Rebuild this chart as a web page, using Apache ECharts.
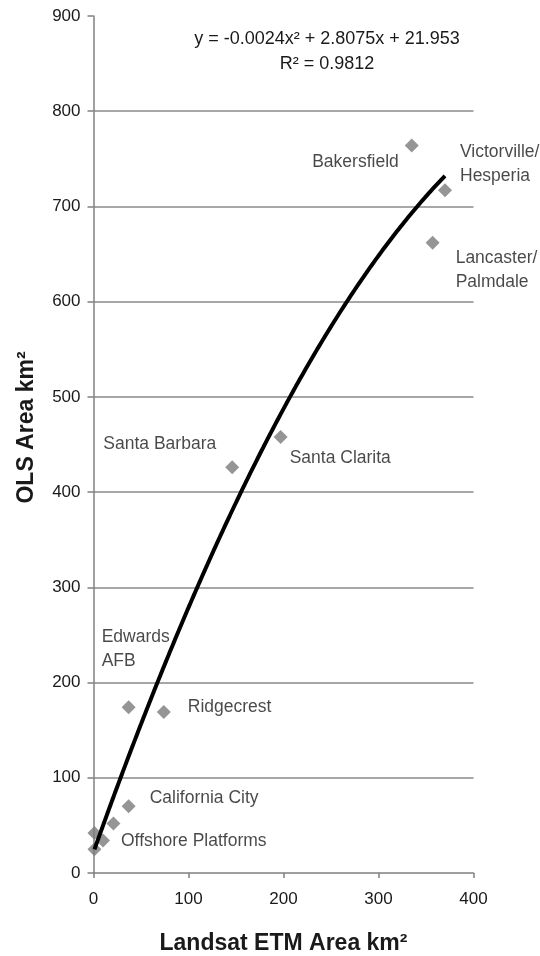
<!DOCTYPE html>
<html>
<head>
<meta charset="utf-8">
<title>OLS vs Landsat ETM urban area</title>
<script src="https://cdn.jsdelivr.net/npm/echarts@6/dist/echarts.min.js"></script>
<style>
  html, body { margin: 0; padding: 0; background: #ffffff; }
  #chart { width: 540px; height: 956px; }
</style>
</head>
<body>
<div id="chart"></div>
<script>
// Urban areas: Landsat ETM area (x) against OLS area (y), both in km²
const siteNames = [
  'Bakersfield', 'Victorville/\nHesperia', 'Lancaster/\nPalmdale',
  'Santa Clarita', 'Santa Barbara', 'Edwards\nAFB', 'Ridgecrest',
  'California City', '', '', 'Offshore Platforms', ''
];
const etmArea = [335, 370, 357, 197, 146, 37, 74, 37, 21, 1, 10, 1];
const olsArea = [764, 717, 662, 458, 426, 174, 169, 70, 52, 42, 34, 25];

// Second-order polynomial trendline, coefficients of x², x, 1
const trendCoefficients = [-0.0024, 2.8075, 21.953];
const rSquared = '0.9812';

// Axis ticks
const xTicks = [0, 100, 200, 300, 400];
const yTicks = [0, 100, 200, 300, 400, 500, 600, 700, 800, 900];

const FONT = "'Liberation Sans', Arial, Helvetica, sans-serif";
const TEXT = '#1a1a1a';

// Where each site label sits relative to its marker
const labelPlacement = {
  'Bakersfield':            { align: 'right', offset: [-13, 17] },
  'Victorville/\nHesperia': { align: 'left',  offset: [15, -26] },
  'Lancaster/\nPalmdale':   { align: 'left',  offset: [23, 28] },
  'Santa Clarita':          { align: 'left',  offset: [9, 21] },
  'Santa Barbara':          { align: 'right', offset: [-16, -23] },
  'Edwards\nAFB':           { align: 'left',  offset: [-27, -58] },
  'Ridgecrest':             { align: 'left',  offset: [24, -5] },
  'California City':        { align: 'left',  offset: [21, -8] },
  'Offshore Platforms':     { align: 'left',  offset: [18, 1] }
};

const pointData = etmArea.map((x, i) => {
  const name = siteNames[i];
  const item = { value: [x, olsArea[i]], name: name };
  const place = labelPlacement[name];
  if (place) {
    item.label = {
      show: true,
      formatter: name,
      position: 'inside',
      align: place.align,
      verticalAlign: 'middle',
      offset: place.offset,
      color: TEXT,
      fontFamily: FONT,
      fontSize: 17.5,
      lineHeight: 24
    };
  }
  return item;
});

// Trendline drawn across the range of the observed ETM areas
function trend(x) {
  const [a, b, c] = trendCoefficients;
  return a * x * x + b * x + c;
}
const xLo = Math.min(...etmArea);
const xHi = Math.max(...etmArea);
const trendData = [];
for (let x = xLo; x <= xHi; x += 1) trendData.push([x, trend(x)]);
if (trendData[trendData.length - 1][0] !== xHi) trendData.push([xHi, trend(xHi)]);

function term(v, suffix, first) {
  if (first) return (v < 0 ? '-' : '') + Math.abs(v) + suffix;
  return (v < 0 ? ' - ' : ' + ') + Math.abs(v) + suffix;
}
const equationText =
  'y = ' + term(trendCoefficients[0], 'x²', true) +
  term(trendCoefficients[1], 'x', false) +
  term(trendCoefficients[2], '', false);

const chart = echarts.init(document.getElementById('chart'), null, { renderer: 'canvas' });

chart.setOption({
  backgroundColor: '#ffffff',
  animation: false,
  textStyle: { fontFamily: FONT },
  grid: {
    left: 93.5, right: 66.5, top: 16, bottom: 83,
    containLabel: false,
    outerBoundsMode: 'none'
  },
  xAxis: {
    type: 'value',
    min: xTicks[0],
    max: xTicks[xTicks.length - 1],
    interval: xTicks[1] - xTicks[0],
    name: 'Landsat ETM Area km²',
    nameLocation: 'middle',
    nameGap: 59,
    nameTextStyle: { fontFamily: FONT, fontSize: 23, fontWeight: 'bold', color: TEXT },
    axisLine: { show: true, onZero: false, lineStyle: { color: '#808080', width: 1.5 } },
    axisTick: { show: true, inside: false, length: 5, lineStyle: { color: '#808080', width: 1.5 } },
    axisLabel: { fontFamily: FONT, fontSize: 17, color: TEXT, margin: 18 },
    splitLine: { show: false }
  },
  yAxis: {
    type: 'value',
    min: yTicks[0],
    max: yTicks[yTicks.length - 1],
    interval: yTicks[1] - yTicks[0],
    name: 'OLS Area km²',
    nameLocation: 'middle',
    nameRotate: 90,
    nameGap: 55,
    nameTextStyle: {
      fontFamily: FONT, fontSize: 23, fontWeight: 'bold', color: TEXT,
      padding: [0, 0, 0, 34]
    },
    axisLine: { show: true, onZero: false, lineStyle: { color: '#808080', width: 1.5 } },
    axisTick: { show: true, inside: false, length: 6, lineStyle: { color: '#808080', width: 1.5 } },
    axisLabel: { fontFamily: FONT, fontSize: 17, color: TEXT, margin: 13 },
    splitLine: {
      show: true,
      showMinLine: false,
      showMaxLine: false,
      lineStyle: { color: '#8a8a8a', width: 1.5 }
    }
  },
  graphic: [
    {
      type: 'text',
      x: 327,
      y: 39,
      style: {
        text: equationText,
        align: 'center',
        verticalAlign: 'middle',
        font: '18px ' + FONT,
        fill: TEXT
      }
    },
    {
      type: 'text',
      x: 327,
      y: 64,
      style: {
        text: 'R² = ' + rSquared,
        align: 'center',
        verticalAlign: 'middle',
        font: '18px ' + FONT,
        fill: TEXT
      }
    }
  ],
  series: [
    {
      type: 'scatter',
      name: 'Sites',
      symbol: 'diamond',
      symbolSize: 14,
      itemStyle: { color: '#7a7a7a' },
      label: { show: false },
      data: pointData,
      z: 2
    },
    {
      type: 'line',
      name: 'Trend',
      data: trendData,
      showSymbol: false,
      symbol: 'none',
      smooth: false,
      lineStyle: { color: '#000000', width: 4 },
      z: 3
    }
  ]
});
</script>
</body>
</html>
